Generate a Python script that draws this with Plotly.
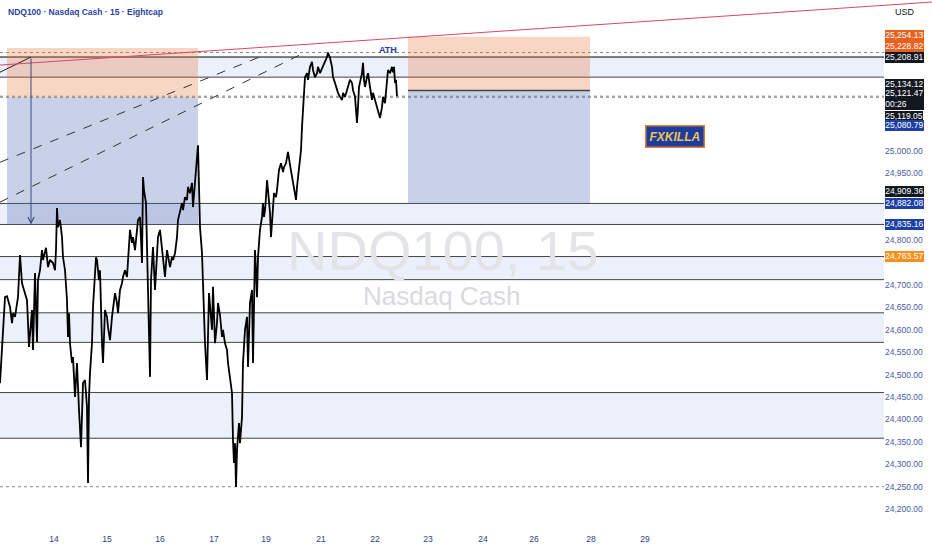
import plotly.graph_objects as go

# ---- price path (15-min chart, x = bar index on the time scale) ----
bar_index = [0, 2, 5, 7, 10, 12, 13, 15, 18, 20, 22, 24, 27, 28, 29, 32, 33, 35, 37, 38,
             40, 42, 43, 46, 48, 50, 53, 55, 56, 57, 58, 60, 62, 63, 65, 67, 68, 69, 70, 72,
             73, 75, 77, 79, 81, 83, 85, 87, 88, 89, 90, 92, 93, 96, 97, 99, 100, 102, 103, 105,
             107, 108, 110, 112, 115, 117, 118, 120, 122, 123, 125, 127, 130, 132, 133, 135, 138, 140, 142, 143,
             144, 146, 147, 148, 150, 151, 152, 153, 155, 157, 158, 160, 162, 163, 165, 167, 168, 170, 172, 173,
             175, 177, 178, 180, 182, 183, 185, 187, 188, 190, 192, 193, 195, 196, 198, 199, 200, 202, 203, 204,
             205, 207, 209, 212, 213, 215, 217, 218, 220, 222, 223, 225, 227, 228, 230, 232, 233, 234, 235, 236,
             237, 239, 240, 242, 243, 244, 245, 247, 248, 250, 252, 253, 254, 255, 256, 257, 258, 260, 262, 263,
             264, 265, 266, 267, 268, 270, 271, 273, 274, 276, 277, 279, 281, 283, 284, 286, 287, 288, 290, 292,
             293, 295, 296, 297, 299, 301, 302, 303, 304, 305, 307, 308, 310, 312, 313, 315, 317, 318, 320, 322,
             323, 325, 327, 328, 330, 332, 333, 335, 337, 338, 340, 342, 343, 345, 347, 348, 350, 352, 353, 355,
             357, 358, 359, 362, 363, 364, 365, 367, 368, 370, 372, 373, 375, 377, 378, 380, 382, 383, 385, 387,
             388, 390, 392, 393, 394, 395, 396, 397]
price = [24481, 24555, 24673, 24675, 24651, 24615, 24637, 24629, 24673, 24767, 24704, 24689, 24666, 24615, 24562, 24644, 24555, 24727, 24573, 24711,
         24733, 24778, 24756, 24783, 24740, 24756, 24749, 24733, 24778, 24872, 24829, 24845, 24807, 24762, 24733, 24666, 24584, 24637, 24570, 24526,
         24539, 24450, 24526, 24421, 24338, 24481, 24488, 24428, 24258, 24450, 24504, 24570, 24651, 24762, 24756, 24711, 24733, 24570, 24526, 24644,
         24629, 24606, 24577, 24629, 24682, 24660, 24637, 24689, 24704, 24718, 24733, 24718, 24823, 24794, 24807, 24778, 24845, 24852, 24749, 24941,
         24912, 24883, 24778, 24718, 24495, 24711, 24749, 24785, 24689, 24778, 24807, 24823, 24785, 24762, 24718, 24778, 24762, 24740, 24762, 24756,
         24771, 24807, 24845, 24861, 24883, 24867, 24896, 24890, 24919, 24905, 24928, 24874, 24941, 24957, 25012, 24934, 24829, 24771, 24704, 24644,
         24570, 24488, 24682, 24600, 24696, 24570, 24615, 24660, 24633, 24584, 24600, 24570, 24555, 24526, 24495, 24459, 24354, 24303, 24347, 24249,
         24332, 24392, 24347, 24405, 24526, 24570, 24600, 24629, 24517, 24660, 24689, 24526, 24704, 24778, 24733, 24673, 24762, 24823, 24852, 24883,
         24852, 24867, 24896, 24934, 24912, 24861, 24807, 24883, 24905, 24896, 24912, 24957, 24972, 24952, 24963, 24972, 24986, 24997, 24968, 24939,
         24923, 24901, 24890, 24919, 24961, 25001, 25053, 25097, 25142, 25164, 25173, 25158, 25187, 25198, 25180, 25164, 25173, 25187, 25173, 25184,
         25191, 25202, 25209, 25219, 25207, 25187, 25164, 25151, 25135, 25129, 25120, 25113, 25129, 25120, 25135, 25142, 25158, 25151, 25135, 25120,
         25062, 25097, 25142, 25173, 25196, 25158, 25142, 25164, 25173, 25142, 25113, 25129, 25113, 25097, 25084, 25073, 25097, 25120, 25106, 25158,
         25180, 25173, 25187, 25175, 25187, 25151, 25158, 25121.47]

# ---- axes ----
day_tick_bars = [54, 107, 160, 214, 266, 321, 375, 428, 483, 534, 591, 645]
day_tick_labels = ["14", "15", "16", "17", "19", "21", "22", "23", "24", "26", "28", "29"]
price_ticks = [24200, 24250, 24300, 24350, 24400, 24450, 24500, 24550, 24600, 24650, 24700,
               24800, 24950, 25000]
x_range = [0, 884]
y_range = [24148.7, 25336.2]

# ---- horizontal zones / levels ----
zone_tops = [25208.91, 24882.08, 24763.57, 24638, 24460]
zone_bottoms = [25164, 24835.16, 24712, 24572, 24358]
dotted_levels = [25219, 25121.47, 25119.05, 24249.8]

# ---- position boxes (bars start/end, levels top / entry / stop) ----
left_box_bars = [7, 198]
left_box_levels = [25228.82, 25119.05, 24835.16]
right_box_bars = [408, 590]
right_box_levels = [25254.13, 25134.12, 24882.08]

# ---- trend lines (bar, price) ----
red_line = [(0, 25191), (932, 25331.6)]
black_line = [(0, 25175), (31, 25209)]
dashed_lines = [[(0, 24974), (264, 25213)], [(0, 24885), (302, 25216)]]
arrow_bar = 31
arrow_from_to = [25209, 24835.16]

# ---- price-axis labels ----
label_prices = [25254.13, 25228.82, 25208.91, 25134.12, 25121.47, 25119.05, 25080.79,
                24909.36, 24882.08, 24835.16, 24763.57]
label_colors = ["#e8611c", "#e8611c", "#131722", "#131722", "#131722", "#131722", "#1e3fa6",
                "#131722", "#1e3fa6", "#1e3fa6", "#f5901f"]
label_shift = [1.5, 1.5, -0.5, 6, -3, -19, -11, 0, 0, 0, 0]
countdown = "00:26"

FONT = "Liberation Sans"
span = x_range[1] - x_range[0]

fig = go.Figure()
fig.add_trace(go.Scatter(x=bar_index, y=price, mode="lines",
                         line=dict(color="#000000", width=1.8), hoverinfo="skip",
                         showlegend=False))

shapes = []
for t, b in zip(zone_tops, zone_bottoms):
    shapes.append(dict(type="rect", xref="paper", yref="y", x0=0, x1=1, y0=b, y1=t,
                       fillcolor="#ebf0fb", line=dict(width=0), layer="below"))

for bars, lv in [(left_box_bars, left_box_levels), (right_box_bars, right_box_levels)]:
    shapes.append(dict(type="rect", xref="x", yref="y", x0=bars[0], x1=bars[1], y0=lv[1], y1=lv[0],
                       fillcolor="rgba(232,120,60,0.30)", line=dict(width=0), layer="below"))
    shapes.append(dict(type="rect", xref="x", yref="y", x0=bars[0], x1=bars[1], y0=lv[2], y1=lv[1],
                       fillcolor="rgba(75,102,178,0.30)", line=dict(width=0), layer="below"))
shapes.append(dict(type="line", xref="x", yref="y", x0=right_box_bars[0], x1=right_box_bars[1],
                   y0=right_box_levels[1], y1=right_box_levels[1],
                   line=dict(color="#444444", width=1.5), layer="below"))

for i, lv in enumerate(zone_tops + zone_bottoms):
    col = "#000000" if i == 0 else "#454545"
    shapes.append(dict(type="line", xref="paper", yref="y", x0=0, x1=1, y0=lv, y1=lv,
                       line=dict(color=col, width=1), layer="below"))
for lv in dotted_levels:
    shapes.append(dict(type="line", xref="paper", yref="y", x0=0, x1=1, y0=lv, y1=lv,
                       line=dict(color="#8a8a8a", width=1, dash="dot"), layer="below"))

for seg in dashed_lines:
    shapes.append(dict(type="line", xref="x", yref="y", x0=seg[0][0], y0=seg[0][1],
                       x1=seg[1][0], y1=seg[1][1], line=dict(color="#333333", width=1, dash="dash"),
                       layer="below"))
shapes.append(dict(type="line", xref="x", yref="y", x0=black_line[0][0], y0=black_line[0][1],
                   x1=black_line[1][0], y1=black_line[1][1], line=dict(color="#222222", width=1)))
# red trend line continues over the price scale (paper on x, price on y)
shapes.append(dict(type="line", xref="paper", yref="y",
                   x0=(red_line[0][0] - x_range[0]) / span, y0=red_line[0][1],
                   x1=(red_line[1][0] - x_range[0]) / span, y1=red_line[1][1],
                   line=dict(color="#e0456a", width=1)))

ann = []
# watermark
ann.append(dict(xref="paper", yref="paper", x=0.5, y=0.53, text="NDQ100, 15", showarrow=False,
                font=dict(family=FONT, size=56, color="#e3e4e8")))
ann.append(dict(xref="paper", yref="paper", x=0.5, y=0.444, text="Nasdaq Cash", showarrow=False,
                font=dict(family=FONT, size=26, color="#d9dadf")))
# title
ann.append(dict(xref="paper", yref="paper", x=0, y=1, xanchor="left", yanchor="middle",
                xshift=6, yshift=-12, text="NDQ100 · Nasdaq Cash · 15 · Eightcap", showarrow=False,
                font=dict(family=FONT, size=8.5, color="#2a42a0", weight=600)))
# currency
ann.append(dict(xref="paper", yref="paper", x=1, y=1, xanchor="left", yanchor="middle",
                xshift=9, yshift=-12, text="USD", showarrow=False,
                font=dict(family=FONT, size=9, color="#131722")))
# arrow
ann.append(dict(xref="x", yref="y", axref="x", ayref="y", x=arrow_bar, y=arrow_from_to[1],
                ax=arrow_bar, ay=arrow_from_to[0], text="", showarrow=True, arrowhead=5,
                arrowsize=1.2, arrowwidth=1, arrowcolor="#3b4a7e"))
# ATH
ann.append(dict(xref="x", yref="y", x=388, y=25213, text="ATH", showarrow=False, yshift=5,
                font=dict(family=FONT, size=9, color="#2a3c9c", weight="bold")))
# badge
ann.append(dict(xref="x", yref="y", x=675, y=25031, text="<i><b>FXKILLA</b></i>", showarrow=False,
                bgcolor="#1c3c9e", bordercolor="#e07a30", borderwidth=1.5, borderpad=3,
                font=dict(family=FONT, size=12, color="#f2c14e")))
# price labels
for p, c, s in zip(label_prices, label_colors, label_shift):
    txt = f"{p:,.2f}"
    if p == price[-1]:
        txt = txt + "<br>" + countdown
    ann.append(dict(xref="paper", yref="y", x=1, y=p, xanchor="left", yanchor="middle",
                    xshift=1, yshift=s, text=txt, showarrow=False, align="left",
                    bgcolor=c, borderpad=0.3, borderwidth=0,
                    font=dict(family=FONT, size=8.5, color="#ffffff")))

fig.update_layout(
    width=932, height=550, autosize=False,
    margin=dict(l=0, r=48, t=0, b=18),
    paper_bgcolor="#ffffff", plot_bgcolor="#ffffff",
    shapes=shapes, annotations=ann, showlegend=False,
    xaxis=dict(range=x_range, showgrid=False, zeroline=False, showline=False, ticks="",
               tickvals=day_tick_bars, ticktext=day_tick_labels,
               tickfont=dict(family=FONT, size=8.5, color="#2f3e8e")),
    yaxis=dict(range=y_range, side="right", showgrid=False, zeroline=False, showline=False,
               ticks="", tickvals=price_ticks, tickformat=",.2f",
               tickfont=dict(family=FONT, size=8.5, color="#4b5aa3")),
)

fig.write_html("out.html", config={"displayModeBar": False},
               post_script="document.body.style.margin='0';")
